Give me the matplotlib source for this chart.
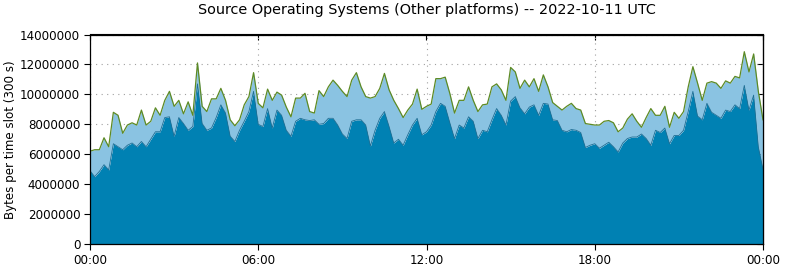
import matplotlib
matplotlib.use("Agg")
import matplotlib.pyplot as plt
import numpy as np

# 10-minute samples, values in millions of bytes per 300 s slot
dark_mb = [4.9, 4.5, 4.85, 5.3, 4.95, 6.7, 6.5, 6.3, 6.6, 6.75,
           6.5, 6.85, 6.5, 7.0, 7.5, 7.5, 8.45, 8.5, 7.2, 8.45,
           8.05, 7.6, 7.85, 10.7, 8.05, 7.6, 7.75, 8.45, 9.3, 8.75,
           7.2, 6.85, 7.6, 8.2, 8.85, 10.2, 8.0, 7.85, 9.05, 7.75,
           8.95, 8.6, 7.6, 7.2, 8.2, 8.4, 8.3, 8.25, 8.3, 8.0,
           8.05, 8.4, 8.4, 7.95, 7.35, 7.05, 8.2, 8.3, 8.3, 7.95,
           6.55, 7.6, 8.4, 8.85, 7.85, 6.75, 7.0, 6.6, 7.3, 7.95,
           8.4, 7.3, 7.5, 7.95, 8.85, 9.4, 9.2, 8.1, 7.05, 7.95,
           7.75, 8.5, 8.2, 7.05, 7.6, 7.5, 8.3, 9.05, 8.6, 7.95,
           9.55, 9.85, 9.1, 8.7, 9.15, 9.3, 8.6, 9.4, 9.35, 8.3,
           8.25, 7.6, 7.5, 7.65, 7.6, 7.45, 6.45, 6.6, 6.7, 6.4,
           6.6, 6.8, 6.5, 6.15, 6.75, 7.05, 7.15, 7.15, 7.35, 7.05,
           6.6, 7.6, 7.45, 7.75, 6.7, 7.25, 7.25, 7.6, 8.85, 10.2,
           8.55, 8.3, 9.4, 8.8, 8.6, 8.4, 8.95, 8.85, 9.3, 9.05,
           10.6, 8.95, 9.95, 6.5, 5.0]
light_mb = [1.3, 1.8, 1.45, 1.8, 1.55, 2.1, 2.1, 1.1, 1.35, 1.35,
            1.45, 2.1, 1.45, 1.2, 1.6, 1.1, 1.15, 1.7, 2.0, 1.15,
            0.65, 1.9, 0.75, 1.4, 1.15, 1.25, 1.95, 1.25, 1.1, 0.85,
            1.1, 1.05, 0.7, 1.1, 1.0, 1.25, 1.4, 1.25, 1.3, 1.85,
            1.2, 1.35, 1.55, 1.3, 1.55, 1.35, 1.77, 0.6, 0.45, 2.25,
            1.8, 2.1, 2.55, 2.65, 2.85, 2.8, 2.75, 3.15, 2.2, 1.9,
            3.2, 2.25, 2.0, 2.55, 2.45, 2.85, 2.05, 1.85, 1.65, 1.4,
            1.95, 1.7, 1.7, 1.4, 2.2, 1.65, 1.95, 1.95, 1.7, 1.65,
            1.85, 2.0, 1.4, 1.8, 1.7, 1.85, 2.2, 1.65, 1.7, 1.65,
            2.25, 1.65, 1.3, 2.25, 1.35, 1.75, 1.6, 1.9, 1.15, 1.15,
            0.95, 1.35, 1.7, 1.75, 1.45, 1.5, 1.6, 1.4, 1.25, 1.55,
            1.6, 1.45, 1.6, 1.35, 1.0, 1.3, 1.55, 1.05, 0.45, 1.4,
            2.45, 1.0, 1.15, 1.45, 1.1, 1.55, 1.15, 1.25, 1.65, 1.65,
            2.2, 1.3, 1.35, 2.05, 2.15, 2.0, 1.95, 1.9, 1.9, 2.05,
            2.25, 2.55, 2.75, 3.7, 3.3]
tick_hours = [0, 6, 12, 18, 24]
tick_labels = ["00:00", "06:00", "12:00", "18:00", "00:00"]
yticks = list(range(0, 14000001, 2000000))

dark = np.array(dark_mb) * 1e6
top = dark + np.array(light_mb) * 1e6
hours = np.arange(len(dark)) * 10 / 60

plt.rcParams['font.family'] = 'DejaVu Sans'
plt.rcParams['font.size'] = 8.6

fig = plt.figure(figsize=(7.85, 2.68), dpi=100)
ax = fig.add_axes([90 / 785, 24 / 268, 673 / 785, 209.5 / 268])

ax.fill_between(hours, 0, dark, color='#0081b3', linewidth=0, zorder=1)
ax.fill_between(hours, dark, top, color='#8ac3e2', linewidth=0, zorder=1)
ax.plot(hours, dark, color='#1f6e94', linewidth=0.6, zorder=1.5)
ax.plot(hours, top, color='#5d8a24', linewidth=0.9, zorder=1.6)

ax.set_xlim(0, 24)
ax.set_ylim(0, 14000000)
ax.set_xticks(tick_hours)
ax.set_xticklabels(tick_labels)
ax.set_yticks(yticks)
ax.ticklabel_format(style='plain', axis='y')
ax.tick_params(direction='out', length=4, width=0.8, pad=3)

ax.grid(True, linestyle=(0, (1, 4)), color='#a0a0a0', linewidth=0.8)
ax.set_axisbelow(True)
for s in ax.spines.values():
    s.set_linewidth(0.9)

# mirrored inward ticks on top and right
sx = ax.secondary_xaxis('top')
sx.set_xticks(tick_hours)
sx.tick_params(direction='in', length=4, width=0.8, labeltop=False)
sy = ax.secondary_yaxis('right')
sy.set_yticks(yticks)
sy.tick_params(direction='in', length=4, width=0.8, labelright=False)

ax.set_ylabel("Bytes per time slot (300 s)", labelpad=2)
ax.set_title("Source Operating Systems (Other platforms) -- 2022-10-11 UTC",
             fontsize=10.4, pad=15)

fig.savefig("out.png", dpi=100)
